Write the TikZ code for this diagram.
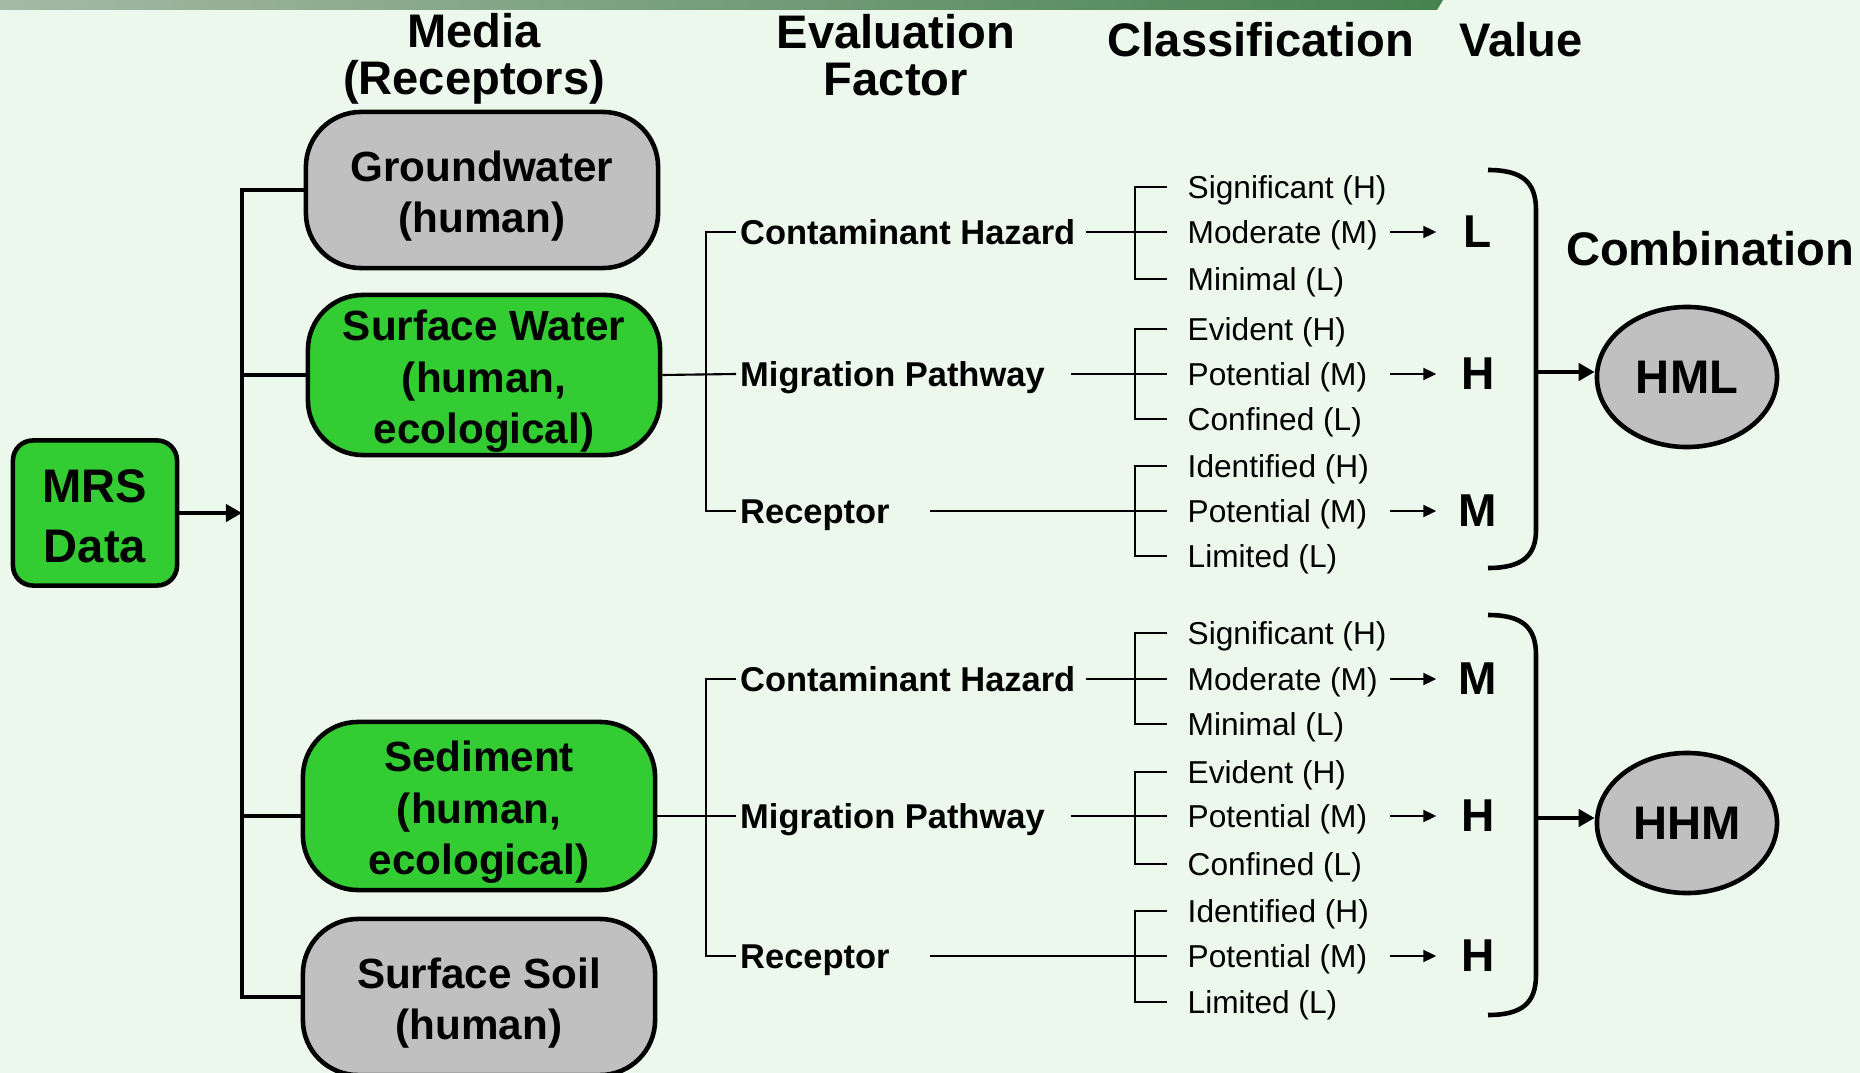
\documentclass[tikz,border=0pt]{standalone}
\usepackage{fontspec}
\setmainfont{Liberation Sans}
\usepackage{xcolor}
\usetikzlibrary{arrows.meta,positioning,shapes.geometric}
\definecolor{slidebg}{RGB}{237,248,237}
\definecolor{boxgreen}{RGB}{51,204,51}
\definecolor{boxgray}{RGB}{192,192,192}
\definecolor{barleft}{RGB}{165,185,165}
\definecolor{barright}{RGB}{70,130,80}
\newcommand{\mediastrut}{\rule{0pt}{12.3pt}}

\begin{document}
\begin{tikzpicture}[
  x=0.01cm,y=-0.01cm,
  media/.style={draw, line width=1.3pt, rounded corners=5.5mm, minimum width=3.52cm, minimum height=1.56cm, inner sep=0pt, align=center, font=\fontsize{12}{14.6}\selectfont\bfseries},
  colhead/.style={align=center, font=\fontsize{13.4}{13.2}\selectfont\bfseries},
  factor/.style={anchor=west, inner sep=1pt, text height=7.1pt, text depth=0pt, font=\fontsize{9.8}{11}\selectfont\bfseries},
  grade/.style={anchor=west, inner xsep=2mm, inner ysep=0pt, text height=6.6pt, text depth=0pt, font=\fontsize{9}{10}\selectfont},
  score/.style={minimum width=8.2mm, inner sep=0pt, font=\fontsize{13.1}{14}\selectfont\bfseries},
  combo/.style={draw, ellipse, fill=boxgray, line width=1.3pt, minimum width=1.8cm, minimum height=1.4cm, inner sep=0pt, font=\fontsize{13.4}{14}\selectfont\bfseries},
  twig/.style={line width=0.6pt},
  trunk/.style={line width=1.4pt},
  smallarr/.style={-{Triangle[length=1.3mm,width=1.2mm]}, line width=0.6pt},
  arrow/.style={-{Triangle[length=1.6mm,width=1.7mm]}, line width=1.2pt}
]
% slide background
\fill[slidebg] (0,0) rectangle (1860,1073);
\useasboundingbox (0,0) rectangle (1860,1073);
\shade[left color=barleft, right color=barright] (0,0) -- (1443,0) -- (1437,10) -- (0,10) -- cycle;

% column headings
\node[colhead] (hmedia) at (474,59) {Media\\(Receptors)};
\node[colhead] (hfactor) at (896,55) {Evaluation\\Factor};
\node[colhead] (hclass) at (1261,40) {Classification};
\node[colhead] (hvalue) at (1521,40) {Value};

% source and media
\node[draw, line width=1.3pt, fill=boxgreen, rounded corners=2mm, minimum width=1.64cm, minimum height=1.45cm, inner sep=0pt, align=center, font=\fontsize{13.4}{16.8}\selectfont\bfseries] (mrs) at (95,513) {\rule{0pt}{11.2pt}MRS\\Data};
\node[media, fill=boxgray] (gw) at (482,190) {\mediastrut Groundwater\\(human)};
\node[media, fill=boxgreen, minimum height=1.6cm] (sw) at (484,375) {\mediastrut Surface Water\\(human,\\ecological)};
\node[media, fill=boxgreen, minimum height=1.68cm] (sed) at (479,806) {\mediastrut Sediment\\(human,\\ecological)};
\node[media, fill=boxgray] (soil) at (479,997) {\mediastrut Surface Soil\\(human)};

% evaluation factors
\node[factor] (ch1) at (736,232) {Contaminant Hazard};
\node[factor] (mp1) at (736,374) {Migration Pathway};
\node[factor] (rc1) at (736,511) {Receptor};
\node[factor] (ch2) at (736,679) {Contaminant Hazard};
\node[factor] (mp2) at (736,816) {Migration Pathway};
\node[factor] (rc2) at (736,956) {Receptor};

% classifications, upper set
\node[grade] (ch1h) at (1167,187) {Significant (H)};
\node[grade] (ch1m) at (1167,232) {Moderate (M)};
\node[grade] (ch1l) at (1167,279) {Minimal (L)};
\node[grade] (mp1h) at (1167,329) {Evident (H)};
\node[grade] (mp1m) at (1167,374) {Potential (M)};
\node[grade] (mp1l) at (1167,419) {Confined (L)};
\node[grade] (rc1h) at (1167,466) {Identified (H)};
\node[grade] (rc1m) at (1167,511) {Potential (M)};
\node[grade] (rc1l) at (1167,556) {Limited (L)};
% classifications, lower set
\node[grade] (ch2h) at (1167,633) {Significant (H)};
\node[grade] (ch2m) at (1167,679) {Moderate (M)};
\node[grade] (ch2l) at (1167,724) {Minimal (L)};
\node[grade] (mp2h) at (1167,772) {Evident (H)};
\node[grade] (mp2m) at (1167,816) {Potential (M)};
\node[grade] (mp2l) at (1167,864) {Confined (L)};
\node[grade] (rc2h) at (1167,911) {Identified (H)};
\node[grade] (rc2m) at (1167,956) {Potential (M)};
\node[grade] (rc2l) at (1167,1002) {Limited (L)};

% values
\node[score] (v1) at (1478,232) {L};
\node[score] (v2) at (1478,374) {H};
\node[score] (v3) at (1478,511) {M};
\node[score] (v4) at (1478,679) {M};
\node[score] (v5) at (1478,816) {H};
\node[score] (v6) at (1478,956) {H};

\node[font=\fontsize{13.4}{14}\selectfont\bfseries] (comb) at (1710,249) {Combination};
\node[combo] (hml) at (1687,377) {HML};
\node[combo] (hhm) at (1687,823) {HHM};

% helper columns
\coordinate (tk) at (242,0);
\coordinate (sp) at (706,0);
\coordinate (br) at (1135,0);
\coordinate (ar) at (1390,0);
\coordinate (pr1) at (1536,372);
\coordinate (pr2) at (1536,818);

% MRS data to media
\draw[arrow, line width=1.3pt] (mrs.east) -- (tk |- mrs);
\draw[trunk] (gw.west) -- (tk |- gw) -- (tk |- soil) -- (soil.west);
\draw[trunk] (sw.west) -- (tk |- sw);
\draw[trunk] (sed.west |- mp2) -- (tk |- mp2);

% media to factors
\draw[twig] (sw.east) -- (mp1.west);
\draw[twig] (ch1.west) -- (sp |- ch1) -- (sp |- rc1) -- (rc1.west);
\draw[twig] (sed.east |- mp2) -- (mp2.west);
\draw[twig] (ch2.west) -- (sp |- ch2) -- (sp |- rc2) -- (rc2.west);

% factors to classifications
\draw[twig] ([xshift=0.6mm]ch1.east) -- (ch1m.west);
\draw[twig] ([xshift=2.2mm]mp1.east) -- (mp1m.west);
\draw[twig] ([xshift=3.6mm]rc1.east) -- (rc1m.west);
\draw[twig] ([xshift=0.6mm]ch2.east) -- (ch2m.west);
\draw[twig] ([xshift=2.2mm]mp2.east) -- (mp2m.west);
\draw[twig] ([xshift=3.6mm]rc2.east) -- (rc2m.west);
\draw[twig] (ch1h.west) -- (br |- ch1h) -- (br |- ch1l) -- (ch1l.west);
\draw[twig] (mp1h.west) -- (br |- mp1h) -- (br |- mp1l) -- (mp1l.west);
\draw[twig] (rc1h.west) -- (br |- rc1h) -- (br |- rc1l) -- (rc1l.west);
\draw[twig] (ch2h.west) -- (br |- ch2h) -- (br |- ch2l) -- (ch2l.west);
\draw[twig] (mp2h.west) -- (br |- mp2h) -- (br |- mp2l) -- (mp2l.west);
\draw[twig] (rc2h.west) -- (br |- rc2h) -- (br |- rc2l) -- (rc2l.west);

% classifications to values
\draw[smallarr] (ar |- v1) -- (v1.west);
\draw[smallarr] (ar |- v2) -- (v2.west);
\draw[smallarr] (ar |- v3) -- (v3.west);
\draw[smallarr] (ar |- v4) -- (v4.west);
\draw[smallarr] (ar |- v5) -- (v5.west);
\draw[smallarr] (ar |- v6) -- (v6.west);

% brackets and combinations
\draw[line width=1.3pt] (1488,170) .. controls (1522,170) and (1536,182) .. (1536,210) -- (1536,530) .. controls (1536,556) and (1522,568) .. (1488,568);
\draw[line width=1.3pt] (1488,615) .. controls (1522,615) and (1536,627) .. (1536,655) -- (1536,975) .. controls (1536,1003) and (1522,1015) .. (1488,1015);
\draw[arrow] (pr1) -- (pr1 -| hml.west);
\draw[arrow] (pr2) -- (pr2 -| hhm.west);
\end{tikzpicture}
\end{document}
